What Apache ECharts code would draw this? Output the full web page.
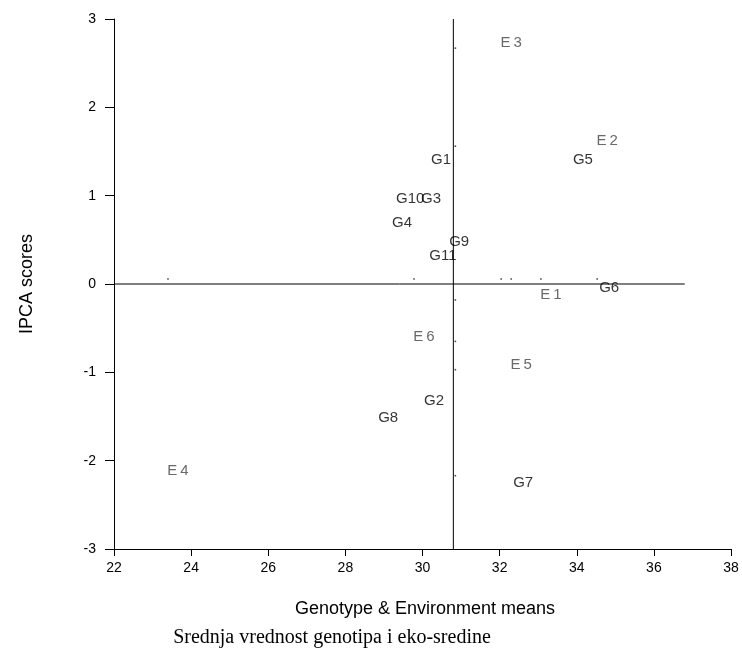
<!DOCTYPE html>
<html><head><meta charset="utf-8">
<script src="https://cdn.jsdelivr.net/npm/echarts@6/dist/echarts.min.js"></script>
<style>html,body{margin:0;padding:0;background:#fff}#c{width:742px;height:657px}</style>
</head><body><div id="c"></div>
<script>
// Genotypes
const genoNames = ['G1','G2','G3','G4','G5','G6','G7','G8','G9','G10','G11'];
const genoMeans = [30.48, 30.30, 30.22, 29.47, 34.16, 34.84, 32.61, 29.11, 30.95, 29.68, 30.53];
const genoIPCA  = [1.40, -1.32, 0.96, 0.69, 1.40, -0.045, -2.25, -1.52, 0.475, 0.96, 0.32];
// Environments
const envNames = ['E1','E2','E3','E4','E5','E6'];
const envMeans = [33.07, 34.53, 32.04, 23.40, 32.30, 29.78];
const envIPCA  = [-0.18, 1.56, 2.67, -2.17, -0.97, -0.65];
// Grand mean and reference line extent
const grandMean = 30.8;
const zeroLineEnd = 36.8;
const xTicks = [22,24,26,28,30,32,34,36,38];
const yTicks = [-3,-2,-1,0,1,2,3];

const chart = echarts.init(document.getElementById('c'), null, {renderer:'canvas'});
const font = 'Arial, "Liberation Sans", sans-serif';
const option = {
  animation:false,
  grid:{left:114, top:19, right:11, bottom:108, containLabel:false},
  xAxis:{type:'value', min:xTicks[0], max:xTicks[xTicks.length-1], interval:2,
    axisLine:{onZero:false, lineStyle:{color:'#000', width:1}},
    axisTick:{show:true, length:7, lineStyle:{color:'#000'}},
    axisLabel:{color:'#000', fontSize:14, fontFamily:font, margin:12},
    splitLine:{show:false}},
  yAxis:{type:'value', min:yTicks[0], max:yTicks[yTicks.length-1], interval:1,
    axisLine:{show:true, onZero:false, lineStyle:{color:'#000', width:1}},
    axisTick:{show:true, length:9, lineStyle:{color:'#000'}},
    axisLabel:{color:'#000', fontSize:14, fontFamily:font, margin:18},
    splitLine:{show:false}},
  graphic:[
    {type:'text', rotation:Math.PI/2, x:27, y:284, style:{text:'IPCA scores', font:'18px '+font, fill:'#000', textAlign:'center', textVerticalAlign:'middle'}},
    {type:'text', x:425, y:609, style:{text:'Genotype & Environment means', font:'18px '+font, fill:'#000', textAlign:'center', textVerticalAlign:'middle'}},
    {type:'text', x:332, y:638, style:{text:'Srednja vrednost genotipa i eko-sredine', font:'20px "Liberation Serif", "Times New Roman", serif', fill:'#000', textAlign:'center', textVerticalAlign:'middle'}}
  ],
  series:[
    {type:'line', data:[[xTicks[0],0],[zeroLineEnd,0]], symbol:'none', lineStyle:{color:'#000', width:1}, silent:true},
    {type:'line', data:[[grandMean,yTicks[0]],[grandMean,yTicks[yTicks.length-1]]], symbol:'none', lineStyle:{color:'#000', width:1}, silent:true},
    {type:'scatter', data:envMeans.map(v=>[v,0]), symbol:'rect', symbolSize:1.6, symbolOffset:[0,-5], itemStyle:{color:'#222'}, silent:true},
    {type:'scatter', data:envIPCA.map(v=>[grandMean,v]), symbol:'rect', symbolSize:1.6, symbolOffset:[2,0], itemStyle:{color:'#222'}, silent:true},
    {type:'scatter', data:genoNames.map((n,i)=>({name:n, value:[genoMeans[i], genoIPCA[i]]})), symbolSize:0,
      label:{show:true, position:'inside', formatter:'{b}', color:'#000', fontSize:15, fontFamily:font}},
    {type:'scatter', data:envNames.map((n,i)=>({name:n, value:[envMeans[i], envIPCA[i]]})), symbolSize:0,
      label:{show:true, position:'inside', offset:[10,-5], formatter:p=>p.name.split('').join(' ').replace(' ', '\u2009'), color:'#444', fontSize:15, fontFamily:font}}
  ]
};
chart.setOption(option);
</script></body></html>
